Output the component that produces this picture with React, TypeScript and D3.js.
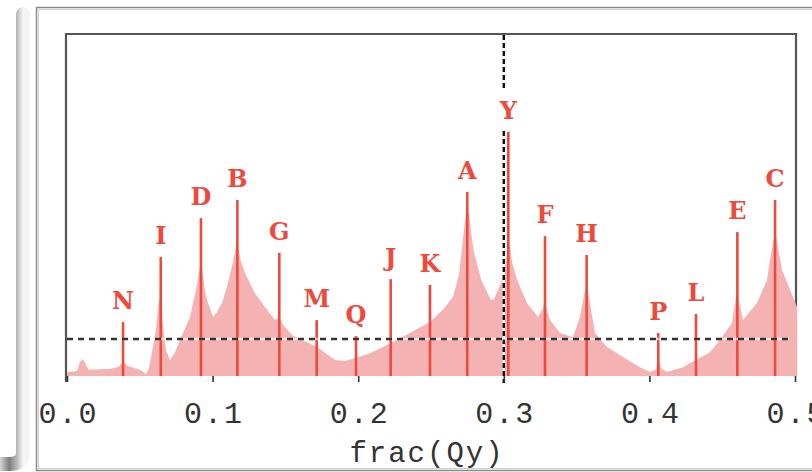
import { useEffect, useRef } from 'react';
import * as d3 from 'd3';

// resonance lines (label, fractional tune, relative strength)
const peakNames = ['N', 'I', 'D', 'B', 'G', 'M', 'Q', 'J', 'K', 'A', 'Y', 'F', 'H', 'P', 'L', 'E', 'C'];
const peakQ = [0.0385, 0.0644, 0.092, 0.117, 0.1458, 0.1715, 0.1985, 0.2223, 0.2493, 0.2749, 0.3031, 0.3283, 0.3569, 0.4061, 0.432, 0.4604, 0.4863];
const peakAmp = [0.158, 0.349, 0.463, 0.516, 0.361, 0.164, 0.117, 0.284, 0.267, 0.54, 0.716, 0.41, 0.355, 0.126, 0.182, 0.422, 0.516];

// measured spectrum (pink background)
const specQ = [
  0, 0.0069, 0.0089, 0.011, 0.013, 0.0151, 0.0295, 0.035, 0.0385, 0.0419, 0.0501, 0.0543, 0.0563, 0.0584,
  0.0611, 0.0632, 0.0646, 0.0659, 0.068, 0.0707, 0.0742, 0.0776, 0.0845, 0.0886, 0.0913, 0.0927, 0.0948,
  0.0968, 0.1003, 0.103, 0.1065, 0.1106, 0.114, 0.116, 0.1175, 0.1195, 0.1223, 0.1291, 0.136, 0.1429,
  0.1456, 0.1484, 0.1545, 0.1614, 0.1717, 0.1841, 0.1909, 0.1985, 0.2081, 0.2225, 0.2356, 0.2493, 0.2582,
  0.2651, 0.2692, 0.2719, 0.274, 0.2761, 0.2782, 0.2796, 0.2844, 0.2912, 0.2933, 0.2981, 0.3015, 0.3029,
  0.3043, 0.3056, 0.3091, 0.3159, 0.3235, 0.3269, 0.3283, 0.3297, 0.3317, 0.3386, 0.3475, 0.3523, 0.3558,
  0.3578, 0.3592, 0.3626, 0.3709, 0.3819, 0.3935, 0.4004, 0.4045, 0.4059, 0.408, 0.4121, 0.4231, 0.4306,
  0.432, 0.4416, 0.4485, 0.4567, 0.4595, 0.4609, 0.4643, 0.4739, 0.4808, 0.4828, 0.4856, 0.487, 0.4911,
  0.4966, 0.5014,
];
const specAmp = [
  0.012, 0.015, 0.041, 0.05, 0.032, 0.018, 0.021, 0.026, 0.041, 0.029, 0.018, 0.006, 0.023, 0.07,
  0.135, 0.223, 0.232, 0.15, 0.076, 0.047, 0.07, 0.106, 0.173, 0.252, 0.32, 0.32, 0.246,
  0.214, 0.173, 0.188, 0.214, 0.273, 0.334, 0.378, 0.378, 0.334, 0.302, 0.243, 0.202, 0.164,
  0.173, 0.15, 0.12, 0.106, 0.085, 0.047, 0.044, 0.053, 0.067, 0.097, 0.126, 0.158, 0.194,
  0.232, 0.296, 0.399, 0.478, 0.478, 0.399, 0.361, 0.282, 0.223, 0.226, 0.273, 0.334, 0.384,
  0.384, 0.334, 0.282, 0.214, 0.173, 0.199, 0.223, 0.194, 0.164, 0.126, 0.114, 0.173, 0.252,
  0.252, 0.214, 0.126, 0.085, 0.056, 0.026, 0.012, 0.018, 0.056, 0.023, 0.012, 0.026, 0.044,
  0.047, 0.07, 0.106, 0.155, 0.232, 0.232, 0.164, 0.214, 0.282, 0.34, 0.408, 0.408, 0.311,
  0.252, 0.202,
];

const xTicks = [0, 0.1, 0.2, 0.3, 0.4, 0.5];
const threshold = 0.1085;
const tuneQ = 0.3;
const xTitle = 'frac(Qy)';

export default function App() {
  const ref = useRef<SVGSVGElement>(null);

  useEffect(() => {
    const el = ref.current;
    if (!el) return;
    const svg = d3.select(el);
    svg.selectAll('*').remove();

    const W = 812, H = 472;
    const m = { l: 67, r: 17, t: 35, b: 96 };
    const mono = "'Liberation Mono', 'Courier New', monospace";
    const slab = "'DejaVu Serif', 'Liberation Serif', serif";
    const red = '#ee4a3c';

    const x = d3.scaleLinear().domain([0, 0.5]).range([m.l, W - m.r]);
    const y = d3.scaleLinear().domain([0, 1]).range([H - m.b, m.t]);

    const defs = svg.append('defs');
    const grad = defs.append('linearGradient').attr('id', 'bevel').attr('x1', 0).attr('x2', 1).attr('y1', 0).attr('y2', 0);
    grad.append('stop').attr('offset', '0%').attr('stop-color', '#d6d6d6');
    grad.append('stop').attr('offset', '40%').attr('stop-color', '#7c7c7c');
    grad.append('stop').attr('offset', '75%').attr('stop-color', '#bdbdbd');
    grad.append('stop').attr('offset', '100%').attr('stop-color', '#f4f4f4');
    defs.append('clipPath').attr('id', 'inner')
      .append('rect').attr('x', 40).attr('y', 10).attr('width', W - 40).attr('height', 459);

    // window chrome
    svg.append('path')
      .attr('d', 'M23,14 L23,452 Q23,464 10,464 L0,464')
      .attr('fill', 'none')
      .attr('stroke', 'url(#bevel)')
      .attr('stroke-width', 14)
      .attr('stroke-linecap', 'round');
    svg.append('rect').attr('x', 36.5).attr('y', 7.5).attr('width', W).attr('height', 463)
      .attr('fill', '#fff').attr('stroke', '#8a8a8a').attr('stroke-width', 1.5);
    svg.append('rect').attr('x', 38.5).attr('y', 9.5).attr('width', W).attr('height', 459)
      .attr('fill', 'none').attr('stroke', '#d0d0d0').attr('stroke-width', 1);

    const g = svg.append('g').attr('clip-path', 'url(#inner)');

    // plot frame (no bottom edge)
    g.append('path')
      .attr('d', `M${x(0) - 1},${y(0) + 6} V${m.t - 1} H${x(0.5) + 1} V${y(0)}`)
      .attr('fill', 'none').attr('stroke', '#555').attr('stroke-width', 2.2);

    // spectrum
    const area = d3.area<number>()
      .x((_, i) => x(specQ[i]))
      .y0(y(0))
      .y1(d => y(d));
    g.append('path').datum(specAmp).attr('d', area).attr('fill', '#f4b2b2');

    // tune marker
    const vline = () => g.append('line')
      .attr('x1', x(tuneQ)).attr('x2', x(tuneQ)).attr('y1', m.t).attr('y2', y(0) + 7);
    vline().attr('stroke', '#fff').attr('stroke-width', 2.5);
    vline().attr('stroke', '#111').attr('stroke-width', 2.5).attr('stroke-dasharray', '5,3');

    // ticks and labels
    const axis = d3.axisBottom(x).tickValues(xTicks).tickSize(6).tickPadding(20).tickFormat(d3.format('.1f'));
    const ax = g.append('g').attr('transform', `translate(0,${y(0)})`).call(axis);
    ax.select('.domain').remove();
    ax.selectAll('line').attr('stroke', '#333').attr('stroke-width', 1.6);
    ax.selectAll('text')
      .attr('font-family', mono).attr('font-size', 30).attr('letter-spacing', 2).attr('fill', '#333')
      .attr('dx', 1).attr('dy', null).attr('y', 47);

    g.append('text').attr('x', 427).attr('y', 462).attr('text-anchor', 'middle')
      .attr('font-family', mono).attr('font-size', 29).attr('letter-spacing', 2).attr('fill', '#333').text(xTitle);

    // resonance lines
    const peaks = peakNames.map((name, i) => ({ name, q: peakQ[i], a: peakAmp[i] }));
    g.selectAll('line.stem').data(peaks).join('line').attr('class', 'stem')
      .attr('x1', d => x(d.q)).attr('x2', d => x(d.q))
      .attr('y1', y(0)).attr('y2', d => y(d.a))
      .attr('stroke', red).attr('stroke-width', 2.6);

    // threshold
    const hline = () => g.append('line')
      .attr('x1', x(0)).attr('x2', x(0.5) - 6).attr('y1', y(threshold)).attr('y2', y(threshold));
    hline().attr('stroke', '#fff').attr('stroke-opacity', 0.6).attr('stroke-width', 2.5);
    hline().attr('stroke', '#333').attr('stroke-width', 2.5).attr('stroke-dasharray', '6,5');

    const lab = g.selectAll('g.lab').data(peaks).join('g').attr('class', 'lab')
      .attr('transform', d => `translate(${x(d.q)},${y(d.a)})`);
    lab.append('rect').attr('x', -12).attr('y', -42).attr('width', 24).attr('height', 39).attr('fill', '#fff');
    lab.append('text').attr('y', -13).attr('text-anchor', 'middle')
      .attr('font-family', slab).attr('font-weight', 'bold').attr('font-size', 24)
      .attr('fill', red).text(d => d.name);
  }, []);

  return (
    <svg
      ref={ref}
      width={812}
      height={472}
      style={{ position: 'absolute', left: 0, top: 0, background: '#fff' }}
    />
  );
}
